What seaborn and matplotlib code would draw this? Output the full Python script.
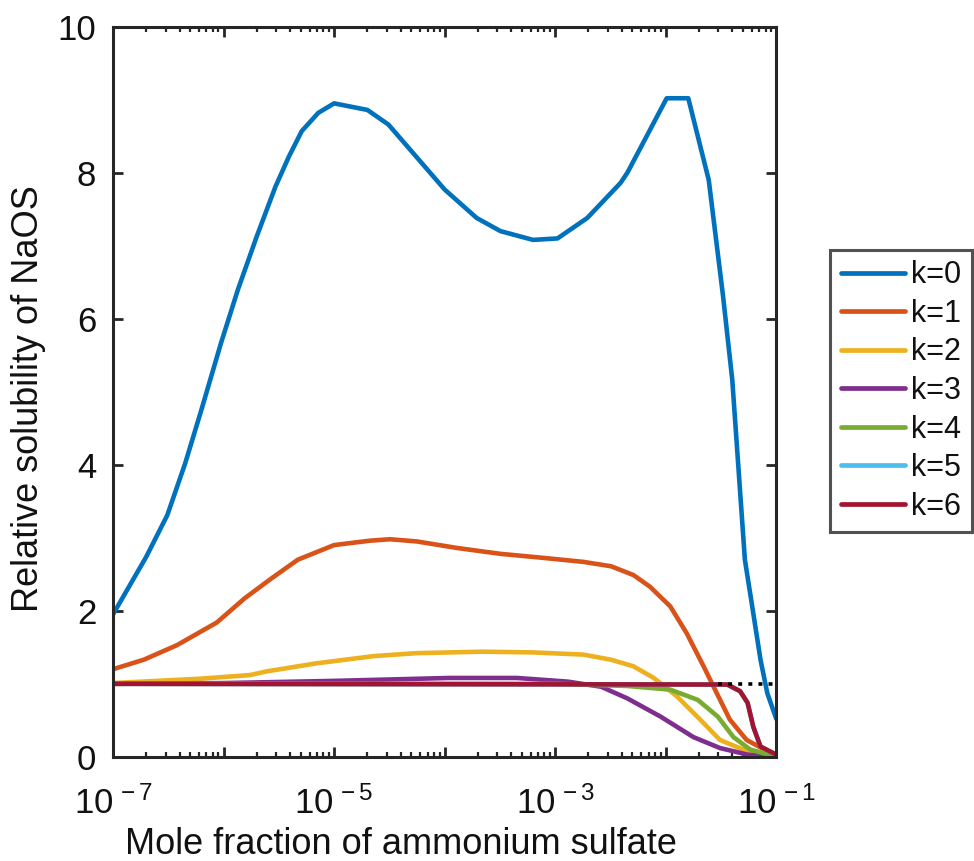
import numpy as np
import pandas as pd
import matplotlib
matplotlib.use("Agg")
import matplotlib.pyplot as plt
import seaborn as sns
from matplotlib.ticker import LogLocator, FixedLocator, FuncFormatter, NullFormatter

# ---------------- data ----------------
x_k0 = [1e-7, 2e-7, 3.1e-7, 4.5e-7, 6.3e-7, 9.5e-7, 1.35e-6, 2e-6, 2.95e-6, 3.9e-6,
        5.1e-6, 7.2e-6, 1e-5, 2e-5, 3.1e-5, 1e-4, 1.95e-4, 3.2e-4, 6.3e-4, 1.05e-3,
        1.95e-3, 3.9e-3, 4.5e-3, 1.02e-2, 1.6e-2, 2.45e-2, 3.3e-2, 4e-2, 5.2e-2,
        6e-2, 7.2e-2, 8.3e-2, 1e-1]
y_k0 = [1.95, 2.74, 3.31, 4.02, 4.75, 5.67, 6.40, 7.13, 7.81, 8.22,
        8.57, 8.82, 8.95, 8.86, 8.66, 7.77, 7.38, 7.20, 7.08, 7.10,
        7.38, 7.86, 8.00, 9.02, 9.02, 7.90, 6.31, 5.16, 2.70,
        2.10, 1.33, 0.87, 0.52]

x_k1 = [1e-7, 1.9e-7, 3.8e-7, 8.7e-7, 1.55e-6, 2.75e-6, 4.7e-6, 1e-5, 2.1e-5, 3.2e-5,
        5.6e-5, 1.3e-4, 3.2e-4, 7.2e-4, 1.8e-3, 3.2e-3, 5.1e-3, 7.2e-3, 1.1e-2,
        1.55e-2, 2.2e-2, 2.9e-2, 3.8e-2, 5.4e-2, 7.8e-2, 1e-1]
y_k1 = [1.20, 1.33, 1.53, 1.84, 2.17, 2.45, 2.70, 2.90, 2.96, 2.98,
        2.95, 2.86, 2.78, 2.73, 2.67, 2.61, 2.49, 2.33, 2.06,
        1.69, 1.24, 0.87, 0.51, 0.23, 0.10, 0.03]

x_k2 = [1e-7, 6.2e-7, 1.74e-6, 2.45e-6, 6.9e-6, 2.3e-5, 5.6e-5, 2.2e-4, 6.3e-4,
        1.8e-3, 3.2e-3, 5.1e-3, 7.8e-3, 1.26e-2, 2.05e-2, 3.1e-2, 5e-2, 1e-1]
y_k2 = [1.01, 1.07, 1.12, 1.17, 1.28, 1.38, 1.42, 1.44, 1.43,
        1.40, 1.33, 1.24, 1.08, 0.83, 0.51, 0.23, 0.10, 0.02]

x_k3 = [1e-7, 1e-6, 1e-5, 1.1e-4, 4.5e-4, 1.3e-3, 2.6e-3, 4.5e-3, 9e-3,
        1.78e-2, 3.1e-2, 5.5e-2, 1e-1]
y_k3 = [1.00, 1.01, 1.04, 1.08, 1.08, 1.03, 0.96, 0.80, 0.55,
        0.27, 0.12, 0.03, 0.00]

x_k4 = [1e-7, 1e-3, 4.5e-3, 1.1e-2, 1.95e-2, 2.96e-2, 4.1e-2, 5.8e-2, 1e-1]
y_k4 = [1.00, 1.00, 0.97, 0.92, 0.78, 0.55, 0.27, 0.10, 0.00]

x_k5 = [1e-7, 3.6e-2, 4.7e-2, 5.5e-2, 6.2e-2, 7.2e-2, 1e-1]
y_k5 = [1.00, 0.99, 0.90, 0.74, 0.41, 0.14, 0.03]

x_k6 = [1e-7, 3.6e-2, 4.7e-2, 5.5e-2, 6.2e-2, 7.2e-2, 1e-1]
y_k6 = [1.00, 0.99, 0.90, 0.74, 0.41, 0.14, 0.03]

ref_x = [3e-2, 1e-1]
ref_y = [1.0, 1.0]

series_labels = ["k=0", "k=1", "k=2", "k=3", "k=4", "k=5", "k=6"]
colors = ["#0072BD", "#D95319", "#EDB120", "#7E2F8E", "#77AC30", "#4DBEEE", "#A2142F"]

x_label = "Mole fraction of ammonium sulfate"
y_label = "Relative solubility of NaOS"
x_major_ticks = [1e-7, 1e-6, 1e-5, 1e-4, 1e-3, 1e-2, 1e-1]
x_tick_text = {1e-7: "-7", 1e-5: "-5", 1e-3: "-3", 1e-1: "-1"}
y_ticks = [0, 2, 4, 6, 8, 10]

# ---------------- build long table ----------------
xs = [x_k0, x_k1, x_k2, x_k3, x_k4, x_k5, x_k6]
ys = [y_k0, y_k1, y_k2, y_k3, y_k4, y_k5, y_k6]
frames = []
for lab, xv, yv in zip(series_labels, xs, ys):
    frames.append(pd.DataFrame({"x": xv, "y": yv, "k": lab}))
df = pd.concat(frames, ignore_index=True)

# ---------------- style ----------------
sns.set_theme(style="ticks")
plt.rcParams["font.family"] = ["Liberation Sans", "DejaVu Sans"]
plt.rcParams["mathtext.fontset"] = "custom"
plt.rcParams["mathtext.rm"] = "Liberation Sans"
plt.rcParams["mathtext.it"] = "Liberation Sans"
plt.rcParams["mathtext.default"] = "regular"
dark = "#262626"
txt = "#111111"

fig = plt.figure(figsize=(9.74, 8.61), dpi=100)
ax = fig.add_axes([0.116, 0.121, 0.681, 0.848])

sns.lineplot(data=df, x="x", y="y", hue="k", hue_order=series_labels,
             palette=colors, estimator=None, sort=False, linewidth=3.3,
             ax=ax, legend=True)
ax.plot(ref_x, ref_y, color="black", linestyle=(0, (1.1, 1.7)), linewidth=2.6, zorder=5)

ax.set_xscale("log")
ax.set_xlim(1e-7, 1e-1)
ax.set_ylim(0, 10)

ax.xaxis.set_major_locator(FixedLocator(x_major_ticks))
ax.xaxis.set_minor_locator(LogLocator(base=10, subs=np.arange(2, 10), numticks=20))
ax.xaxis.set_minor_formatter(NullFormatter())


def fmt(v, pos):
    for key, t in x_tick_text.items():
        if abs(np.log10(v) - np.log10(key)) < 1e-6:
            return r"$10^{\,%s}$" % t
    return ""


ax.xaxis.set_major_formatter(FuncFormatter(fmt))
ax.set_yticks(y_ticks)
ax.set_yticklabels([str(v) for v in y_ticks])

for sp in ax.spines.values():
    sp.set_visible(True)
    sp.set_linewidth(2.2)
    sp.set_color(dark)

ax.tick_params(axis="both", which="both", direction="in", top=True, right=True,
               color=dark, labelcolor=txt)
ax.tick_params(axis="both", which="major", length=7, width=2.0, labelsize=25)
ax.tick_params(axis="x", which="minor", length=3.5, width=1.6)
ax.tick_params(axis="x", which="major", pad=21)
ax.tick_params(axis="y", which="major", pad=12)

ax.set_xlabel(x_label, fontsize=26, labelpad=5, color=txt)
ax.set_ylabel(y_label, fontsize=26, labelpad=8, color=txt)
ax.xaxis.label.set_x(0.434)
ax.yaxis.label.set_y(0.49)

leg = ax.legend(loc="upper left", bbox_to_anchor=(0.852, 0.71),
                bbox_transform=fig.transFigure, borderaxespad=0,
                fontsize=22, handlelength=2.1, handletextpad=0.2,
                labelspacing=0.28, borderpad=0.35, frameon=True, fancybox=False)
leg.get_frame().set_edgecolor(dark)
leg.get_frame().set_linewidth(2.2)
for line in leg.get_lines():
    line.set_linewidth(3.4)
for t in leg.get_texts():
    t.set_color(txt)

fig.savefig("out.png", dpi=100)
